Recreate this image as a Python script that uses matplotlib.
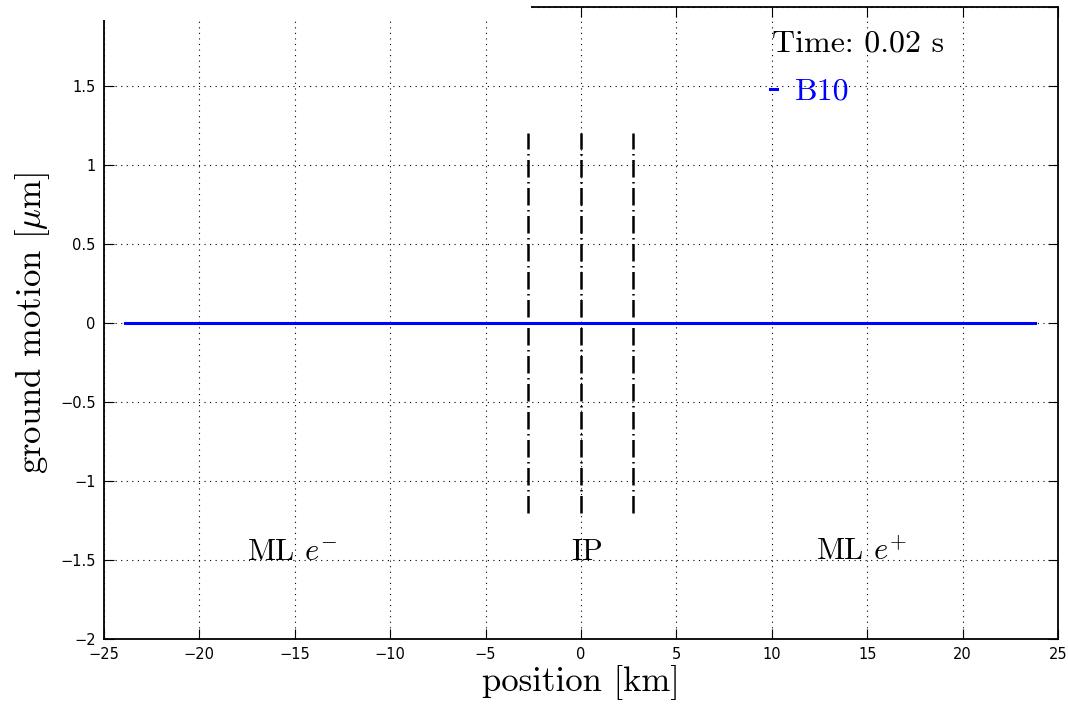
import matplotlib
matplotlib.use("Agg")
import matplotlib.pyplot as plt
from matplotlib.patches import Rectangle

plt.rcParams['font.family'] = 'serif'
plt.rcParams['font.serif'] = ['cmr10', 'DejaVu Serif']
plt.rcParams['mathtext.fontset'] = 'cm'
plt.rcParams['axes.formatter.use_mathtext'] = True

# ---- data ----
line_x = [-23.9, 23.8]          # position [km] of beamline ends
line_y = [0.0, 0.0]             # ground motion [um] at t = 0.02 s
series_label = 'B10'
marker_x = [-2.8, 0.0, 2.75]    # dash-dot markers
marker_half = 1.2
region_labels = ['ML $e^{-}$', 'IP', 'ML $e^{+}$']
region_x = [-17.5, -0.5, 12.3]
region_y = [-1.5, -1.5, -1.5]
time_text = 'Time: 0.02 s'
time_pos = (10.0, 1.717)
xticks = [-25, -20, -15, -10, -5, 0, 5, 10, 15, 20, 25]
yticks = [-2, -1.5, -1, -0.5, 0, 0.5, 1, 1.5, 2]
ytick_labels = ['\u22122', '\u22121.5', '\u22121', '\u22120.5', '0', '0.5', '1', '1.5', '2']
xtick_labels = ['\u221225', '\u221220', '\u221215', '\u221210', '\u22125', '0', '5', '10', '15', '20', '25']

fig = plt.figure(figsize=(10.68, 7.07), dpi=100)
ax = fig.add_axes([104/1068, 68/707, 954/1068, 632/707])

ax.set_xlim(-25, 25)
ax.set_ylim(-2, 2)
ax.set_xticks(xticks)
ax.set_yticks(yticks)
ax.set_xticklabels(xtick_labels, family='DejaVu Sans', fontsize=10.5)
ax.set_yticklabels(ytick_labels, family='DejaVu Sans', fontsize=10.5)
ax.tick_params(direction='in', top=True, right=True, length=7, width=0.8, pad=6, colors='black')
for s in ax.spines.values():
    s.set_linewidth(1.3)
ax.grid(True, color='black', linestyle=(0, (1.0, 4.0)), linewidth=0.8)
ax.set_axisbelow(True)

for mx in marker_x:
    ax.plot([mx, mx], [-marker_half, marker_half], color='black', linewidth=1.8,
            dashes=(7.0, 1.8, 0.6, 1.8), zorder=3)

ax.plot(line_x, line_y, color='#0000ff', linewidth=2.2, label=series_label, zorder=4)

for lab, xx, yy in zip(region_labels, region_x, region_y):
    ax.text(xx, yy, lab, fontsize=22, ha='left', va='baseline')

ax.text(time_pos[0], time_pos[1], time_text, fontsize=23, ha='left', va='baseline')

leg = ax.legend(loc='center left', bbox_to_anchor=(0.698, 0.866), frameon=False,
                borderpad=0, borderaxespad=0, handlelength=0.22, handletextpad=0.55,
                fontsize=23, labelcolor='linecolor')

ax.set_xlabel('position [km]', fontsize=25, labelpad=2)
ax.set_ylabel('ground motion [$\\mu$m]', fontsize=25, labelpad=6)

# white cover over the top-left strip
fig.add_artist(Rectangle((0, (707-20)/707), 531/1068, 20/707, transform=fig.transFigure,
                         facecolor='white', edgecolor='none', zorder=10))

fig.savefig('out.png', dpi=100)
